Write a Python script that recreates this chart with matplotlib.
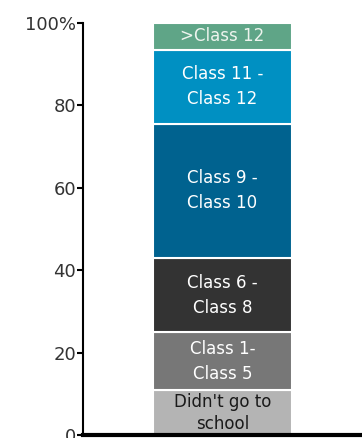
import numpy as np
import matplotlib.pyplot as plt

# education levels, stacked bottom to top (percent)
levels = ["Didn't go to\nschool", "Class 1-\nClass 5", "Class 6 -\nClass 8",
          "Class 9 -\nClass 10", "Class 11 -\nClass 12", ">Class 12"]
shares = [11.0, 14.0, 18.0, 32.5, 18.0, 6.5]
colors = ["#b4b4b4", "#777777", "#333333", "#00628f", "#0090c2", "#5fa587"]
text_colors = ["#1a1a1a", "white", "white", "white", "white", "#eef4ee"]
y_ticks = [0, 20, 40, 60, 80, 100]
y_labels = ["0", "20", "40", "60", "80", "100%"]

fig = plt.figure(figsize=(3.62, 4.38), dpi=100)
ax = fig.add_axes([0.229, 0.006, 0.771, 0.942])

bottom = 0.0
for i, (lab, val, col, tcol) in enumerate(zip(levels, shares, colors, text_colors)):
    ax.bar(0, val, width=0.996, bottom=bottom, color=col,
           edgecolor="white", linewidth=1.5)
    ax.text(0, bottom + val / 2, lab, ha="center", va="center",
            color=tcol, fontsize=12, linespacing=1.3 if i == 0 else 1.5)
    bottom += val

ax.set_xlim(-1, 1)
ax.set_ylim(0, 100)
ax.set_yticks(y_ticks)
ax.set_yticklabels(y_labels, fontsize=13, color="#333333")
ax.set_xticks([])
ax.tick_params(axis="y", direction="out", length=4, width=1.5, pad=1)

for side in ["top", "right"]:
    ax.spines[side].set_visible(False)
ax.spines["left"].set_linewidth(1.5)
ax.spines["bottom"].set_linewidth(3)

fig.savefig("out.png", dpi=100)
